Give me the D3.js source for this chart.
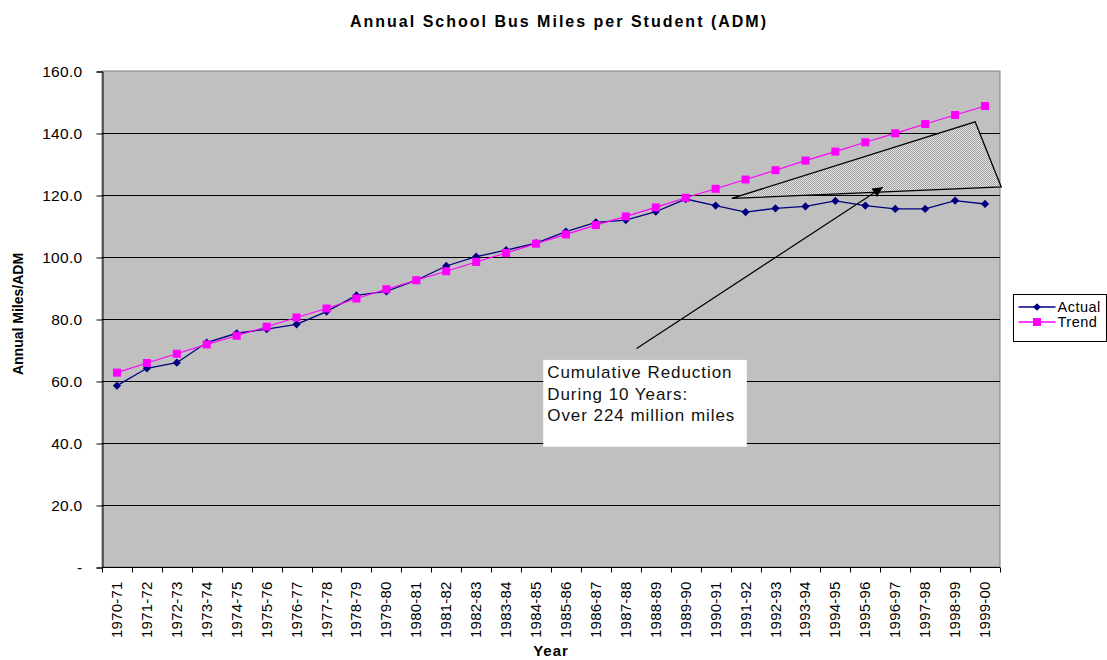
<!DOCTYPE html>
<html>
<head>
<meta charset="utf-8">
<script src="https://cdn.jsdelivr.net/npm/d3@7"></script>
<style>
  body { margin: 0; background: #fff; }
  svg { font-family: Arial, "Liberation Sans", sans-serif; }
</style>
</head>
<body>
<svg class="bus-chart"></svg>
<script>
var years = ['1970-71','1971-72','1972-73','1973-74','1974-75','1975-76','1976-77','1977-78','1978-79','1979-80',
	'1980-81','1981-82','1982-83','1983-84','1984-85','1985-86','1986-87','1987-88','1988-89','1989-90',
	'1990-91','1991-92','1992-93','1993-94','1994-95','1995-96','1996-97','1997-98','1998-99','1999-00'];

var actual = [58.5, 64.1, 65.9, 72.4, 75.4, 76.7, 78.3, 82.4, 87.6, 88.9,
	92.5, 97.1, 100.1, 102.2, 104.5, 108.2, 111.2, 111.9, 114.6, 118.7,
	116.6, 114.5, 115.7, 116.3, 118.1, 116.6, 115.5, 115.5, 118.2, 117.1];

var trend = [62.7, 65.8, 68.8, 71.8, 74.6, 77.5, 80.5, 83.4, 86.6, 89.6,
	92.5, 95.4, 98.4, 101.3, 104.3, 107.3, 110.3, 113.1, 116.0, 119.1,
	122.0, 125.0, 128.0, 131.1, 134.0, 137.0, 139.9, 142.9, 145.8, 148.7];

var yTicks = [0, 20, 40, 60, 80, 100, 120, 140, 160];

// annotation, in (category index, value) units
var gapShape = [[20.54, 118.9], [28.67, 143.6], [29.54, 122.6]];
var arrowLine = [[17.36, 70.5], [25.58, 122.5]];
var noteBox = {x0: 14.24, x1: 21.04, y0: 66.8, y1: 38.8};
var noteLines = ['Cumulative Reduction', 'During 10 Years:', 'Over 224 million miles'];

var W = 1107, H = 660;
var plot = {left: 102, right: 1000, top: 71, bottom: 567};

var svg = d3.select('.bus-chart').attr('width', W).attr('height', H);

var x = d3.scaleBand().domain(years).range([plot.left, plot.right]);
var xi = d3.scaleLinear().domain([-0.5, years.length - 0.5]).range([plot.left, plot.right]);
var y = d3.scaleLinear().domain([0, 160]).range([plot.bottom, plot.top]);

var defs = svg.append('defs');
var pat = defs.append('pattern').attr('id', 'dots')
	.attr('width', 2).attr('height', 2).attr('patternUnits', 'userSpaceOnUse');
pat.append('rect').attr('width', 2).attr('height', 2).attr('fill', '#e4e4e4');
pat.append('rect').attr('width', 1).attr('height', 1).attr('fill', '#a0a0a0');
pat.append('rect').attr('x', 1).attr('y', 1).attr('width', 1).attr('height', 1).attr('fill', '#a0a0a0');
defs.append('marker').attr('id', 'head')
	.attr('viewBox', '0 0 10 10').attr('refX', 10).attr('refY', 5)
	.attr('markerWidth', 14).attr('markerHeight', 10).attr('markerUnits', 'userSpaceOnUse')
	.attr('orient', 'auto')
  .append('path').attr('d', 'M0,0L10,5L0,10z').attr('fill', '#000');

// plot background
svg.append('rect')
	.attr('x', plot.left).attr('y', plot.top)
	.attr('width', plot.right - plot.left).attr('height', plot.bottom - plot.top)
	.attr('fill', '#c0c0c0').attr('stroke', '#808080').attr('stroke-width', 1);

// gridlines
svg.append('g').selectAll('line')
	.data(yTicks.filter(function(d) { return d > 0 && d < 160 }))
  .enter().append('line')
	.attr('x1', plot.left).attr('x2', plot.right)
	.attr('y1', function(d) { return y(d) + 0.5 }).attr('y2', function(d) { return y(d) + 0.5 })
	.attr('stroke', '#000').attr('stroke-width', 1);

// y axis
var yAxis = svg.append('g')
	.attr('transform', 'translate(' + (plot.left + 0.5) + ',0.5)')
	.call(d3.axisLeft(y).tickValues(yTicks).tickSize(6).tickPadding(14)
		.tickFormat(function(d) { return d === 0 ? '-' : d3.format('.1f')(d) }));
yAxis.select('.domain').attr('stroke', '#000');
yAxis.selectAll('text').attr('font-size', 15.5).attr('letter-spacing', 0.3).attr('fill', '#000')
	.attr('font-family', 'Arial, "Liberation Sans", sans-serif');

// x axis, ticks at the category borders
var xAxis = svg.append('g').attr('transform', 'translate(0,' + (plot.bottom + 0.5) + ')');
xAxis.append('line').attr('x1', plot.left).attr('x2', plot.right).attr('stroke', '#000');
xAxis.selectAll('line.tk').data(d3.range(years.length + 1))
  .enter().append('line').attr('class', 'tk')
	.attr('x1', function(i) { return Math.round(xi(i - 0.5)) + 0.5 })
	.attr('x2', function(i) { return Math.round(xi(i - 0.5)) + 0.5 })
	.attr('y1', 0).attr('y2', 5).attr('stroke', '#000');
xAxis.selectAll('text').data(years)
  .enter().append('text')
	.attr('transform', function(d) { return 'translate(' + (x(d) + x.bandwidth() / 2 + 5) + ',14) rotate(-90)' })
	.attr('text-anchor', 'end')
	.attr('font-size', 15).attr('letter-spacing', 0.2)
	.text(function(d) { return d });

// gap triangle
svg.append('path')
	.attr('d', d3.line().x(function(d) { return xi(d[0]) }).y(function(d) { return y(d[1]) })(gapShape) + 'Z')
	.attr('fill', 'url(#dots)').attr('stroke', '#000').attr('stroke-width', 1.3);

// series
var lineGen = d3.line()
	.x(function(d, i) { return x(years[i]) + x.bandwidth() / 2 })
	.y(function(d) { return y(d) });

svg.append('path').datum(actual).attr('d', lineGen)
	.attr('fill', 'none').attr('stroke', '#000080').attr('stroke-width', 1.3);
svg.append('path').datum(trend).attr('d', lineGen)
	.attr('fill', 'none').attr('stroke', '#ff00ff').attr('stroke-width', 1.2);

svg.append('g').selectAll('path').data(actual)
  .enter().append('path')
	.attr('d', d3.symbol().type(d3.symbolSquare).size(34))
	.attr('transform', function(d, i) { return 'translate(' + (x(years[i]) + x.bandwidth() / 2) + ',' + y(d) + ') rotate(45)' })
	.attr('fill', '#000080');
svg.append('g').selectAll('rect').data(trend)
  .enter().append('rect')
	.attr('x', function(d, i) { return x(years[i]) + x.bandwidth() / 2 - 4 })
	.attr('y', function(d) { return y(d) - 4 })
	.attr('width', 8).attr('height', 8)
	.attr('fill', '#ff00ff');

// arrow
svg.append('line')
	.attr('x1', xi(arrowLine[0][0])).attr('y1', y(arrowLine[0][1]))
	.attr('x2', xi(arrowLine[1][0])).attr('y2', y(arrowLine[1][1]))
	.attr('stroke', '#000').attr('stroke-width', 1.2)
	.attr('marker-end', 'url(#head)');

// note box
svg.append('rect')
	.attr('x', xi(noteBox.x0)).attr('y', y(noteBox.y0))
	.attr('width', xi(noteBox.x1) - xi(noteBox.x0)).attr('height', y(noteBox.y1) - y(noteBox.y0))
	.attr('fill', '#fff');
svg.append('g').selectAll('text').data(noteLines)
  .enter().append('text')
	.attr('x', xi(noteBox.x0) + 4)
	.attr('y', function(d, i) { return y(noteBox.y0) + 18 + i * 21.7 })
	.attr('font-size', 17).attr('letter-spacing', 0.95)
	.attr('fill', '#111')
	.text(function(d) { return d });

// title and axis titles
svg.append('text')
	.attr('x', 559).attr('y', 27).attr('text-anchor', 'middle')
	.attr('font-size', 16).attr('font-weight', 'bold').attr('letter-spacing', 2)
	.text('Annual School Bus Miles per Student (ADM)');
svg.append('text')
	.attr('x', 551).attr('y', 656).attr('text-anchor', 'middle')
	.attr('font-size', 15).attr('font-weight', 'bold').attr('letter-spacing', 1)
	.text('Year');
svg.append('text')
	.attr('transform', 'translate(23,314) rotate(-90)')
	.attr('text-anchor', 'middle')
	.attr('font-size', 14).attr('font-weight', 'bold')
	.text('Annual Miles/ADM');

// legend
var legend = svg.append('g').attr('transform', 'translate(1013.5,294.5)');
legend.append('rect').attr('width', 93).attr('height', 47)
	.attr('fill', '#fff').attr('stroke', '#000');
var items = [
	{name: 'Actual', color: '#000080'},
	{name: 'Trend', color: '#ff00ff'}
];
var li = legend.selectAll('g.item').data(items)
  .enter().append('g').attr('class', 'item')
	.attr('transform', function(d, i) { return 'translate(0,' + (12.5 + i * 15) + ')' });
li.append('line').attr('x1', 5).attr('x2', 42)
	.attr('stroke', function(d) { return d.color }).attr('stroke-width', 1.3);
li.append('path')
	.attr('d', function(d, i) {
		return i === 0 ? d3.symbol().type(d3.symbolSquare).size(30)() : 'M-4,-4h8v8h-8z' })
	.attr('transform', function(d, i) { return 'translate(23.5,0)' + (i === 0 ? ' rotate(45)' : '') })
	.attr('fill', function(d) { return d.color });
li.append('text').attr('x', 44).attr('y', 5)
	.attr('font-size', 14.5).attr('letter-spacing', 0.5)
	.text(function(d) { return d.name });
</script>
</body>
</html>
